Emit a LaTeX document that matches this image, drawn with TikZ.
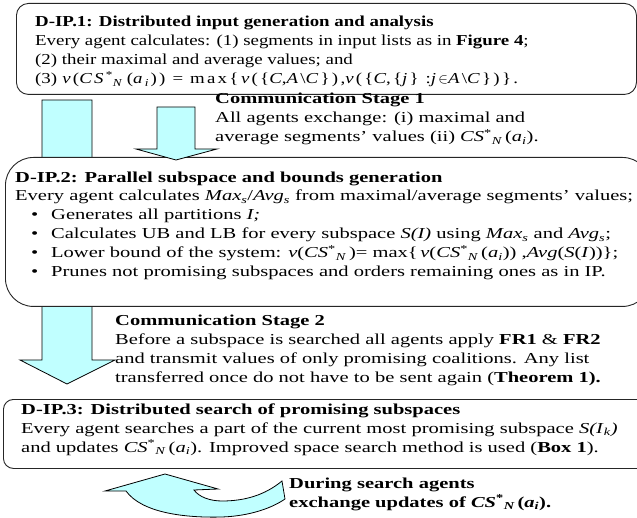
\documentclass[tikz,border=0pt]{standalone}
\usepackage{graphicx}
\usepackage{fontspec}
\setmainfont{Liberation Serif}[FakeStretch=1.35]
\newfontfamily\formulafont{Liberation Serif}[FakeStretch=1.24,LetterSpace=15]

\definecolor{arrowcyan}{RGB}{192,255,255}
\tikzset{
  stagebox/.style={draw=black!85, line width=0.9pt, fill=white},
  flowarrow/.style={draw=black, line width=0.8pt, fill=arrowcyan},
  txt/.style={inner sep=0pt, anchor=base west, font=\fontsize{15.2}{19}\selectfont},
}
\newcommand{\csN}{\textit{CS}\textsuperscript{*}\textsubscript{\textit{N}}\,}
\newcommand{\aI}{(\textit{a}\textsubscript{\textit{i}})}
\newcommand{\bul}{\makebox[20pt][l]{\textbullet}}
\newcommand{\narrow}[1]{\scalebox{0.92}[1]{#1}}

\begin{document}
\begin{tikzpicture}[x=1pt,y=-1pt]
  \useasboundingbox (0,0) rectangle (637,518);
  \clip (0,0) rectangle (637,518);

  % stage boxes and block arrows
  \node[stagebox, rounded corners=12pt, minimum width=620pt, minimum height=91pt, anchor=north west] (ipone) at (16,3) {};
  \draw[flowarrow] (42,100) -- (92,100) -- (92,360) -- (115,360) -- (67,384) -- (20,360) -- (42,360) -- cycle;
  \node[stagebox, rounded corners=28pt, minimum width=645pt, minimum height=149pt, anchor=north west] (iptwo) at (5,157) {};
  \draw[flowarrow] (157,107) -- (195,107) -- (195,149) -- (217,149) -- (176,160) -- (136,149) -- (157,149) -- cycle;
  \node[stagebox, rounded corners=10pt, minimum width=647pt, minimum height=69pt, anchor=north west] (ipthree) at (3,399) {};
  % curved exchange arrow
  \draw[flowarrow] (126,491) .. controls (142,513) and (185,518) .. (222,517)
    .. controls (250,516) and (272,508) .. (285,499) -- (282,481)
    .. controls (265,495) and (245,501) .. (222,501)
    .. controls (210,501) and (199,497) .. (194,490)
    -- (218,489) -- (165,474) -- (105,491) -- cycle;

  % D-IP.1
  \node[txt] (ipone1) at (35,27) {\narrow{\textbf{D-IP.1: Distributed input generation and analysis}}};
  \node[txt] (ipone2) at (35,46) {\narrow{Every agent calculates: (1) segments in input lists as in \textbf{Figure 4};}};
  \node[txt] (ipone3) at (35,65) {\narrow{(2) their maximal and average values; and}};
  \node[txt] (ipone4) at (35,84) {\narrow{(3)} {\formulafont\textit{v}(\csN\aI) = max\{\,\textit{v}(\{\textit{C},\textit{A}\textbackslash\textit{C}\}),\textit{v}(\{\textit{C},\{\textit{j}\}~:\textit{j}$\in$\textit{A}\textbackslash\textit{C}\})\}.}};

  % communication stage 1
  \node[txt] (comone1) at (215,104) {\textbf{Communication Stage 1}};
  \node[txt] (comone2) at (215,123) {All agents exchange: (i) maximal and};
  \node[txt] (comone3) at (215,142) {average segments' values (ii) \csN\aI.};

  % D-IP.2
  \node[txt] (iptwo1) at (15,183) {\textbf{D-IP.2: Parallel subspace and bounds generation}};
  \node[txt] (iptwo2) at (15,201) {Every agent calculates \textit{Max}\textsubscript{\textit{s}}/\textit{Avg}\textsubscript{\textit{s}} from maximal/average segments' values;};
  \node[txt] (iptwo3) at (31,220) {\bul Generates all partitions \textit{I;}};
  \node[txt] (iptwo4) at (31,239) {\bul Calculates UB and LB for every subspace \textit{S(I)} using \textit{Max}\textsubscript{\textit{s}} and \textit{Avg}\textsubscript{\textit{s}};};
  \node[txt] (iptwo5) at (31,258) {\bul Lower bound of the system: \textit{v}(\csN)= max\{\,\textit{v}(\csN\aI) ,\textit{Avg}(\textit{S}(\textit{I}))\};};
  \node[txt] (iptwo6) at (31,277) {\bul Prunes not promising subspaces and orders remaining ones as in IP.};

  % communication stage 2
  \node[txt] (comtwo1) at (115,326) {\textbf{Communication Stage 2}};
  \node[txt] (comtwo2) at (115,344.7) {Before a subspace is searched all agents apply \textbf{FR1} \& \textbf{FR2}};
  \node[txt] (comtwo3) at (115,363.4) {and transmit values of only promising coalitions. Any list};
  \node[txt] (comtwo4) at (115,382) {transferred once do not have to be sent again (\textbf{Theorem 1).}};

  % D-IP.3
  \node[txt] (ipthree1) at (21,414) {\textbf{D-IP.3: Distributed search of promising subspaces}};
  \node[txt] (ipthree2) at (21,433) {Every agent searches a part of the current most promising subspace \textit{S(I}\textsubscript{\textit{k}}\textit{)}};
  \node[txt] (ipthree3) at (21,452) {and updates \csN\aI. Improved space search method is used (\textbf{Box 1}).};

  % exchange during search
  \node[txt] (during1) at (289,488) {\textbf{During search agents}};
  \node[txt] (during2) at (289,507) {\textbf{exchange updates of \csN\aI.}};
\end{tikzpicture}
\end{document}
